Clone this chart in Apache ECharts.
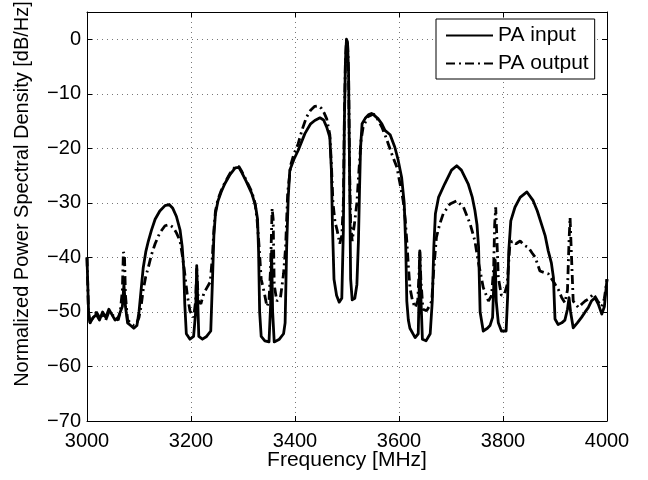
<!DOCTYPE html>
<html>
<head>
<meta charset="utf-8">
<script src="https://cdn.jsdelivr.net/npm/echarts@6/dist/echarts.min.js"></script>
<style>
  html, body { margin: 0; padding: 0; background: #fff; }
  #psd_chart { width: 648px; height: 480px; }
</style>
</head>
<body>
<div id="psd_chart"></div>
<script>
// PA input spectrum (solid line)
const inFreq = [3000, 3003, 3006, 3012, 3018, 3024, 3030, 3036, 3042, 3048, 3054, 3060, 3064, 3068, 3071, 3074, 3078, 3084, 3090, 3096,
  3100, 3104, 3108, 3113, 3118, 3124, 3131, 3140, 3150, 3158, 3165, 3172, 3179, 3183, 3186, 3188, 3191, 3198, 3205, 3209,
  3211, 3213, 3215, 3222, 3230, 3238, 3241, 3244, 3247, 3252, 3258, 3265, 3275, 3285, 3292, 3298, 3306, 3317, 3324, 3328,
  3330, 3332, 3335, 3342, 3350, 3353, 3355, 3357, 3360, 3370, 3378, 3381, 3384, 3387, 3390, 3398, 3406, 3419, 3430, 3438,
  3448, 3455, 3461, 3467, 3470, 3472, 3475, 3480, 3485, 3490, 3493, 3495, 3497, 3499, 3501, 3503, 3505, 3507, 3510, 3515,
  3519, 3522, 3524, 3526, 3529, 3535, 3542, 3547, 3553, 3560, 3567, 3573, 3583, 3592, 3598, 3605, 3610, 3613, 3615, 3618,
  3621, 3631, 3637, 3639, 3640, 3642, 3645, 3652, 3660, 3664, 3667, 3670, 3676, 3688, 3701, 3711, 3720, 3733, 3741, 3746,
  3750, 3753, 3756, 3762, 3770, 3775, 3780, 3783, 3785, 3787, 3791, 3797, 3806, 3809, 3811, 3815, 3823, 3833, 3846, 3858,
  3866, 3874, 3881, 3887, 3893, 3897, 3900, 3906, 3913, 3919, 3924, 3927, 3930, 3935, 3943, 3951, 3958, 3964, 3970, 3977,
  3983, 3990, 3995, 4000]
const inPsd = [-40, -50, -52, -51, -50.5, -51.5, -50, -51, -49.5, -50.5, -51.5, -51, -50, -49, -45, -49, -52, -52.5, -53, -52.5,
  -50, -46, -42, -39, -37, -35, -33, -31.5, -30.5, -30.3, -31, -32.5, -35, -38, -42, -48.5, -54, -55, -54.5, -50,
  -41.5, -48, -54.5, -55, -54.5, -53.5, -45, -36, -32, -29.6, -28, -26.5, -24.8, -23.6, -23.5, -24.5, -26, -28.3, -30.5, -33,
  -39, -50, -54.5, -55.3, -55.5, -49, -38.8, -50, -55.5, -55, -54, -52, -38, -29, -24, -22, -20.4, -17.3, -15.5, -14.9,
  -14.4, -14.8, -16.1, -18, -24, -34, -44, -47, -48.2, -47.5, -35, -15, -4, 0, -0.5, -6, -25, -44, -47.8, -47.5,
  -45, -37, -28, -20, -15.5, -14.5, -13.8, -13.6, -14, -14.6, -15.5, -16.7, -17.5, -19.8, -22, -25.3, -30, -38, -48, -51.5,
  -53, -54.7, -54, -45, -38.8, -47, -55, -55.3, -54, -48, -38, -32, -29, -26.5, -24, -23.2, -24, -26.5, -29, -31.4,
  -34, -38, -50, -53.5, -53, -52.5, -51, -43, -40.5, -48, -52, -53.5, -53.5, -47, -39, -33.3, -30.8, -29, -28, -29.6,
  -31.5, -33.9, -36, -38.8, -41, -43.7, -51.3, -52.3, -52, -51.5, -49.5, -47.4, -50, -52.9, -52, -51, -50, -49.2, -48, -47.4,
  -48.5, -50.4, -49, -44]

// PA output spectrum (dash-dot line)
const outFreq = [3000, 3003, 3006, 3012, 3018, 3024, 3030, 3036, 3042, 3048, 3054, 3060, 3064, 3068, 3070, 3072, 3074, 3078, 3084, 3090,
  3096, 3100, 3104, 3108, 3113, 3118, 3124, 3131, 3140, 3150, 3158, 3166, 3172, 3179, 3184, 3188, 3193, 3198, 3205, 3209,
  3211, 3214, 3219, 3225, 3231, 3237, 3241, 3244, 3247, 3252, 3258, 3265, 3275, 3285, 3292, 3298, 3306, 3317, 3323, 3327,
  3331, 3335, 3341, 3346, 3350, 3353, 3356, 3358, 3360, 3365, 3372, 3378, 3382, 3386, 3392, 3398, 3406, 3414, 3422, 3430,
  3438, 3445, 3451, 3456, 3461, 3467, 3470, 3473, 3477, 3481, 3486, 3490, 3493, 3495, 3497, 3499, 3501, 3503, 3505, 3507,
  3510, 3515, 3519, 3523, 3527, 3531, 3540, 3551, 3558, 3567, 3575, 3586, 3596, 3602, 3608, 3612, 3615, 3618, 3621, 3626,
  3631, 3636, 3639, 3640, 3642, 3646, 3653, 3658, 3663, 3667, 3672, 3678, 3685, 3698, 3711, 3724, 3737, 3746, 3752, 3757,
  3762, 3768, 3772, 3778, 3782, 3784, 3786, 3788, 3791, 3797, 3803, 3808, 3813, 3817, 3825, 3833, 3841, 3849, 3856, 3862,
  3871, 3880, 3887, 3894, 3900, 3907, 3913, 3919, 3924, 3927, 3929, 3931, 3935, 3945, 3952, 3958, 3966, 3974, 3982, 3990,
  3995, 4000]
const outPsd = [-40, -50.5, -52, -51, -50, -51, -50.5, -51.5, -50, -50.5, -51, -51.5, -50, -46, -39, -39.5, -47, -51.5, -52, -52.5,
  -52, -51, -49, -46, -43.5, -41.8, -39.5, -37.5, -35.5, -34.2, -34, -34.5, -35.5, -37, -40, -43, -47, -49.8, -51, -48,
  -42, -48, -48.5, -46.5, -45.5, -44.5, -40, -35, -31.5, -29.3, -27.8, -26.3, -24.6, -23.4, -23.3, -24.3, -25.8, -28, -30, -33,
  -38, -44, -46.5, -49, -48, -42, -31, -33, -45, -48, -47.4, -43, -38, -28, -23, -21, -19.2, -16.5, -14.3, -13,
  -12.3, -12.2, -12.7, -13.5, -14.6, -17.5, -23, -30, -33.5, -35, -37.5, -36, -30, -14, -4, 0, -0.5, -6, -24, -34,
  -37, -33.3, -30, -24, -18.5, -16.1, -14.2, -13.7, -14.5, -16.1, -18, -21, -23.5, -26.5, -29.6, -33, -37, -41.5, -45.5, -48,
  -49.2, -48, -42, -38.8, -44, -49.5, -49.8, -49, -48, -42, -36.3, -34, -32, -30.2, -29.6, -30.8, -33.9, -37, -40.6, -43,
  -45.5, -47, -48, -47, -42, -34, -30.8, -36, -43.7, -47, -46.7, -45, -38, -37, -37.5, -37, -37.8, -38.2, -39.2, -40,
  -42.5, -42.8, -43, -44, -44.9, -46, -47.4, -48.3, -46, -37, -32.7, -38, -48, -49.2, -48.5, -48, -47.5, -46.7, -48, -49,
  -47.5, -44]

const seriesNames = ['PA input', 'PA output']
const xTicks = { min: 3000, max: 4000, step: 200 }
const yTicks = { min: -70, max: 5, step: 10 }

const FONT = 'Liberation Sans, Arial, Helvetica, sans-serif'

function pairs(xs, ys) {
  return xs.map((x, i) => [x, ys[i]])
}

function minusSign(v) {
  return String(v).replace('-', '\u2212')
}

const gridLine = {
  show: true,
  lineStyle: { type: [1, 4], color: '#777', width: 1 }
}

function boxAxis(base, extra) {
  return Object.assign({
    type: 'value',
    axisLine: { show: true, onZero: false, lineStyle: { color: '#000', width: 1 } },
    axisTick: { show: true, inside: true, length: 5, lineStyle: { color: '#000' } }
  }, base, extra)
}

const chart = echarts.init(document.getElementById('psd_chart'), null, { renderer: 'canvas' })

chart.setOption({
  animation: false,
  backgroundColor: '#fff',
  grid: { left: 87, top: 12, right: 41, bottom: 59, containLabel: false },
  legend: {
    orient: 'vertical',
    left: 436,
    top: 19,
    padding: [6, 6, 5, 9],
    itemGap: 7,
    itemWidth: 47,
    itemHeight: 14,
    backgroundColor: '#fff',
    borderColor: '#000',
    borderWidth: 1,
    borderRadius: 0,
    itemStyle: { opacity: 0, borderWidth: 0 },
    textStyle: { fontSize: 21, color: '#000', fontFamily: FONT },
    data: seriesNames
  },
  xAxis: [
    boxAxis({ min: xTicks.min, max: xTicks.max, interval: xTicks.step }, {
      position: 'bottom',
      splitLine: gridLine,
      axisLabel: { color: '#000', fontSize: 20, fontFamily: FONT, margin: 10, formatter: minusSign }
    }),
    boxAxis({ min: xTicks.min, max: xTicks.max, interval: xTicks.step }, {
      position: 'top',
      splitLine: { show: false },
      axisLabel: { show: false }
    })
  ],
  yAxis: [
    boxAxis({ min: yTicks.min, max: yTicks.max, interval: yTicks.step }, {
      position: 'left',
      splitLine: gridLine,
      axisLabel: { color: '#000', fontSize: 20, fontFamily: FONT, margin: 6, showMaxLabel: false, formatter: minusSign }
    }),
    boxAxis({ min: yTicks.min, max: yTicks.max, interval: yTicks.step }, {
      position: 'right',
      splitLine: { show: false },
      axisLabel: { show: false }
    })
  ],
  graphic: [
    {
      type: 'text',
      position: [347, 460],
      style: {
        text: 'Frequency [MHz]',
        fill: '#000',
        font: '21px ' + FONT,
        align: 'center',
        verticalAlign: 'middle'
      }
    },
    {
      type: 'text',
      rotation: Math.PI / 2,
      position: [22, 194],
      style: {
        text: 'Normalized Power Spectral Density [dB/Hz]',
        fill: '#000',
        font: '20px ' + FONT,
        align: 'center',
        verticalAlign: 'middle'
      }
    }
  ],
  series: [
    {
      name: seriesNames[0],
      type: 'line',
      showSymbol: false,
      symbol: 'none',
      lineStyle: { color: '#000', width: 2.8, type: 'solid', join: 'round' },
      itemStyle: { color: '#000' },
      data: pairs(inFreq, inPsd)
    },
    {
      name: seriesNames[1],
      type: 'line',
      showSymbol: false,
      symbol: 'none',
      lineStyle: { color: '#000', width: 2.8, type: [9, 4, 2, 4] },
      itemStyle: { color: '#000' },
      data: pairs(outFreq, outPsd)
    }
  ]
})
</script>
</body>
</html>
